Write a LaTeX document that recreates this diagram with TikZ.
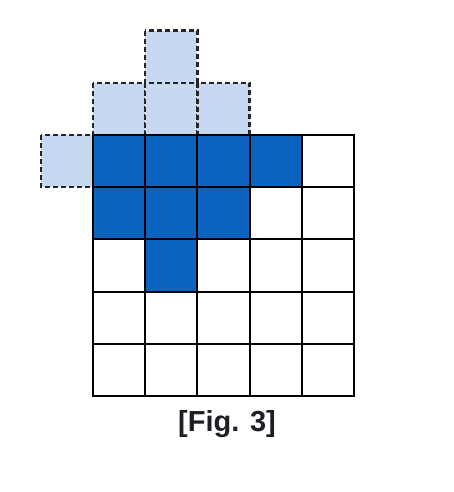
\documentclass[tikz,border=0pt]{standalone}
\usepackage{fontspec}
\setmainfont{Liberation Sans}
\definecolor{darkblue}{RGB}{10,100,192}
\definecolor{lightblue}{RGB}{198,217,240}
\definecolor{captiongray}{RGB}{30,30,36}
\begin{document}
\begin{tikzpicture}[x=1pt,y=-1pt,
  lightcell/.style={fill=lightblue,draw=black!85,line width=2.4pt,dash pattern=on 5pt off 3pt},
  darkcell/.style={fill=darkblue,draw=none},
  gridline/.style={draw=black,line width=2pt},
  caption/.style={font=\fontsize{29}{33}\selectfont\bfseries,text=captiongray,inner sep=0pt}]
\useasboundingbox (0,0) rectangle (454,492);
\def\cs{52.2}
\def\ox{93}
\def\oy{135}
% light cells (dashed)
\foreach \c/\r in {1/-2,0/-1,1/-1,2/-1,-1/0}{
  \path[lightcell] ({\ox+\c*\cs},{\oy+\r*\cs}) rectangle ++(\cs,\cs);
}
% dark cells
\foreach \c/\r in {0/0,1/0,2/0,3/0,0/1,1/1,2/1,1/2}{
  \path[darkcell] ({\ox+\c*\cs},{\oy+\r*\cs}) rectangle ++(\cs,\cs);
}
% grid
\foreach \i in {0,...,5}{
  \draw[gridline] ({\ox+\i*\cs},\oy) -- ({\ox+\i*\cs},{\oy+5*\cs});
  \draw[gridline] (\ox,{\oy+\i*\cs}) -- ({\ox+5*\cs},{\oy+\i*\cs});
}
\draw[gridline,line cap=rect] (\ox,\oy) rectangle ({\ox+5*\cs},{\oy+5*\cs});
\node[caption] (cap) at (227,424) {[Fig. 3]};
\end{tikzpicture}
\end{document}
